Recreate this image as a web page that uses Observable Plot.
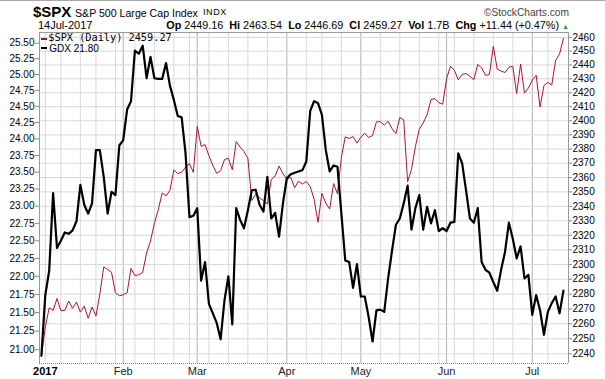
<!DOCTYPE html>
<html><head><meta charset="utf-8">
<script src="https://cdn.jsdelivr.net/npm/d3@7"></script>
<script src="https://cdn.jsdelivr.net/npm/@observablehq/plot@0.6"></script>
<style>
body{margin:0;background:#fff;}
#wrap{position:relative;width:605px;height:379px;overflow:hidden;font-family:"Liberation Sans",Arial,sans-serif;color:#000;}
#chart{position:absolute;left:0;top:0;}
.t{position:absolute;white-space:nowrap;line-height:1;}
.dash{position:absolute;width:6px;height:2.5px;}
#topline{position:absolute;left:0;top:0;width:605px;height:1px;background:#a8a8a8;}
</style></head><body><div id="wrap"><div id="chart"></div><div id="topline"></div>
<div class="t" style="left:33px;top:4.3px;font-size:15px;font-weight:bold;">$SPX</div>
<div class="t" style="left:75px;top:7.7px;font-size:10.6px;">S&amp;P 500 Large Cap Index</div>
<div class="t" style="left:203px;top:8.4px;font-size:9px;letter-spacing:0.6px;">INDX</div>
<div class="t" style="left:38px;top:20px;font-size:11px;">14Jul-2017</div>
<div class="t" id="quote" style="right:36px;top:20px;font-size:10.8px;"></div>
<div class="t" style="right:36px;top:7.5px;font-size:10.2px;color:#444;">©StockCharts.com</div>
<div class="dash" style="left:40.7px;top:37.8px;background:#a3123f;"></div>
<div class="t" style="left:48.3px;top:32.2px;font-size:10.25px;font-family:'DejaVu Sans Mono',monospace;">$SPX (Daily) 2459.27</div>
<div class="dash" style="left:40.7px;top:46.5px;background:#000;"></div>
<div class="t" style="left:49.3px;top:43.8px;font-size:10px;">GDX 21.80</div>
</div>
<script>
// trading calendar
const firstDay = "2016-12-30", lastDay = "2017-07-14";
const holidays = ["2017-01-02","2017-01-16","2017-02-20","2017-04-14","2017-05-29","2017-07-04"];
// $SPX daily close
const spx = [2238.83,
2257.83,2270.75,2269.00,2276.98,2268.90,2268.90,2275.32,2270.44,2274.64,2267.89,2271.89,2263.69,2271.31,2265.20,2280.07,2298.37,2296.68,2294.69,2280.90,2278.87,
2279.55,2280.85,2297.42,2292.56,2293.08,2294.67,2307.87,2316.10,2328.25,2337.58,2349.25,2347.22,2351.16,2365.38,2362.82,2363.81,2367.34,2369.75,2363.64,
2395.96,2381.92,2383.12,2375.31,2368.39,2362.98,2364.87,2372.60,2373.47,2365.45,2385.26,2381.38,2378.25,2373.47,2344.02,2348.45,2345.96,2343.98,2341.59,2358.57,2361.13,2368.06,2362.72,
2358.84,2360.16,2352.95,2357.49,2355.54,2357.16,2353.78,2344.93,2328.95,2349.01,2342.19,2338.17,2355.84,2348.69,2374.15,2388.61,2387.45,2388.77,2384.20,
2388.33,2391.17,2388.13,2389.52,2399.29,2399.38,2396.92,2399.63,2394.44,2390.90,2402.32,2400.67,2357.03,2365.72,2381.73,2394.02,2398.42,2404.39,2415.07,2415.82,2412.91,2411.80,
2430.06,2439.07,2436.10,2429.33,2433.14,2433.79,2431.77,2429.39,2440.35,2437.92,2432.46,2433.15,2453.46,2437.03,2435.61,2434.50,2438.30,2439.07,2419.38,2440.69,2419.70,2423.41,
2429.01,2432.54,2409.75,2425.18,2427.43,2425.53,2443.25,2447.83,2459.27];
// GDX daily close
const gdx = [20.92,
21.74,22.08,23.19,22.40,22.50,22.62,22.60,22.65,22.78,23.31,23.02,22.89,23.04,23.83,23.83,23.43,22.89,23.21,23.16,23.90,
23.98,24.45,24.58,25.38,25.33,25.46,24.94,25.28,24.94,24.93,24.93,25.18,24.82,24.60,24.35,24.33,23.78,22.84,22.86,
22.97,21.94,22.20,21.62,21.49,21.36,21.14,21.67,22.00,21.34,22.97,22.80,22.68,22.94,23.23,23.24,23.02,22.92,23.43,22.82,22.90,22.56,23.04,
23.41,23.47,23.49,23.51,23.53,23.66,24.43,24.58,24.55,24.37,23.83,23.51,23.60,23.58,22.89,22.22,22.20,21.84,22.17,
21.72,21.72,21.44,21.11,21.53,21.54,21.51,21.97,22.36,22.73,22.82,23.04,23.30,22.66,22.97,23.16,22.66,22.99,22.75,22.94,22.64,22.68,
22.64,22.76,22.77,23.78,23.63,23.23,22.82,22.76,22.97,22.20,22.09,22.05,21.92,21.80,22.09,22.34,22.76,22.53,22.25,22.42,21.97,22.02,
21.47,21.74,21.53,21.20,21.51,21.63,21.72,21.49,21.80];
const gdxTicks = [21.00,21.25,21.50,21.75,22.00,22.25,22.50,22.75,23.00,23.25,23.50,23.75,24.00,24.25,24.50,24.75,25.00,25.25,25.50];
const spxTicks = [2240,2250,2260,2270,2280,2290,2300,2310,2320,2330,2340,2350,2360,2370,2380,2390,2400,2410,2420,2430,2440,2450,2460];
const monthNames = ["2017","Feb","Mar","Apr","May","Jun","Jul"];
const gdxRange = [20.818, 25.673];     // low / high of the panel
const spxRange = [2233.62, 2463.54];   // low / high of the period
const quote = [["Op","2449.16"],["Hi","2463.54"],["Lo","2446.69"],["Cl","2459.27"],["Vol","1.7B"],["Chg","+11.44 (+0.47%)"]];

// build trading days
const dates = [];
for (let d = new Date(firstDay + "T12:00:00Z"); d <= new Date(lastDay + "T12:00:00Z"); d.setUTCDate(d.getUTCDate() + 1)) {
  const wd = d.getUTCDay(); const s = d.toISOString().slice(0, 10);
  if (wd === 0 || wd === 6 || holidays.includes(s)) continue;
  dates.push(s);
}
const data = dates.map((date, i) => ({i, date, s: spx[i], g: gdx[i]}));
// first trading day of each week / month (index)
const weekIdx = [], monthIdx = [];
dates.forEach((s, i) => {
  if (i === 0) return;
  const d = new Date(s + "T12:00:00Z"), p = new Date(dates[i - 1] + "T12:00:00Z");
  if (d.getUTCDay() < p.getUTCDay() || (d - p) / 864e5 > 4) weekIdx.push(i);
  if (s.slice(5, 7) !== dates[i - 1].slice(5, 7)) monthIdx.push(i);
});
const darkIdx = monthIdx.slice(1);
// map SPX onto the GDX log scale
const L = Math.log;
const k = (L(gdxRange[1]) - L(gdxRange[0])) / (L(spxRange[1]) - L(spxRange[0]));
const toG = s => Math.exp(L(gdxRange[0]) + (L(s) - L(spxRange[0])) * k);
const fromG = g => Math.exp(L(spxRange[0]) + (L(g) - L(gdxRange[0])) / k);

document.getElementById("quote").innerHTML = quote.map(([a, b]) => `<b>${a}</b> ${b}`).join("&nbsp; ") + ' <span style="color:#2a9a2a;font-size:7px;">&#9650;</span>';

const xDom = [-0.49, 135.3];
const chart = Plot.plot({
  width: 605, height: 379,
  marginTop: 32, marginBottom: 16, marginLeft: 39, marginRight: 37,
  style: {fontFamily: "'Liberation Sans', Arial, sans-serif", fontSize: "10px", color: "#000", background: "transparent"},
  x: {type: "linear", domain: xDom, axis: null, label: null},
  y: {type: "log", domain: gdxRange, axis: null, label: null},
  marks: [
    Plot.ruleX(weekIdx.filter(i => !darkIdx.includes(i)), {stroke: "#d8d8d8", strokeWidth: 1}),
    Plot.ruleX(darkIdx, {stroke: "#b0b0b0", strokeWidth: 1}),
    Plot.ruleY(spxTicks.map(toG), {stroke: "#d8d8d8", strokeWidth: 1}),
    Plot.line(data, {x: "i", y: d => toG(d.s), stroke: "#a8143f", strokeWidth: 1}),
    Plot.line(data, {x: "i", y: "g", stroke: "#000", strokeWidth: 2.2}),
    Plot.ruleX([xDom[0], xDom[1]], {stroke: "#999"}),
    Plot.ruleY([gdxRange[1]], {stroke: "#999"}),
    Plot.ruleY([gdxRange[0]], {stroke: "#888", strokeDasharray: "1,1"}),
    Plot.axisY(gdxTicks, {anchor: "left", label: null, tickFormat: d => d.toFixed(2), tickSize: 4, tickPadding: 1, stroke: "#888", fill: "#000"}),
    Plot.axisY(spxTicks.map(toG), {anchor: "right", label: null, tickFormat: g => String(Math.round(fromG(g))), tickSize: 3, tickPadding: 1, stroke: "#888", fill: "#000"}),
    Plot.axisX(monthIdx.slice(0, 1), {anchor: "bottom", label: null, tickSize: 0, tickPadding: 4, fontSize: 11, fontWeight: "bold",
      tickFormat: () => monthNames[0], fill: "#000"}),
    Plot.axisX(monthIdx.slice(1), {anchor: "bottom", label: null, tickSize: 0, tickPadding: 4, fontSize: 11,
      tickFormat: (d) => monthNames[monthIdx.indexOf(d)], fill: "#222"})
  ]
});
document.getElementById("chart").appendChild(chart);
</script></body></html>
